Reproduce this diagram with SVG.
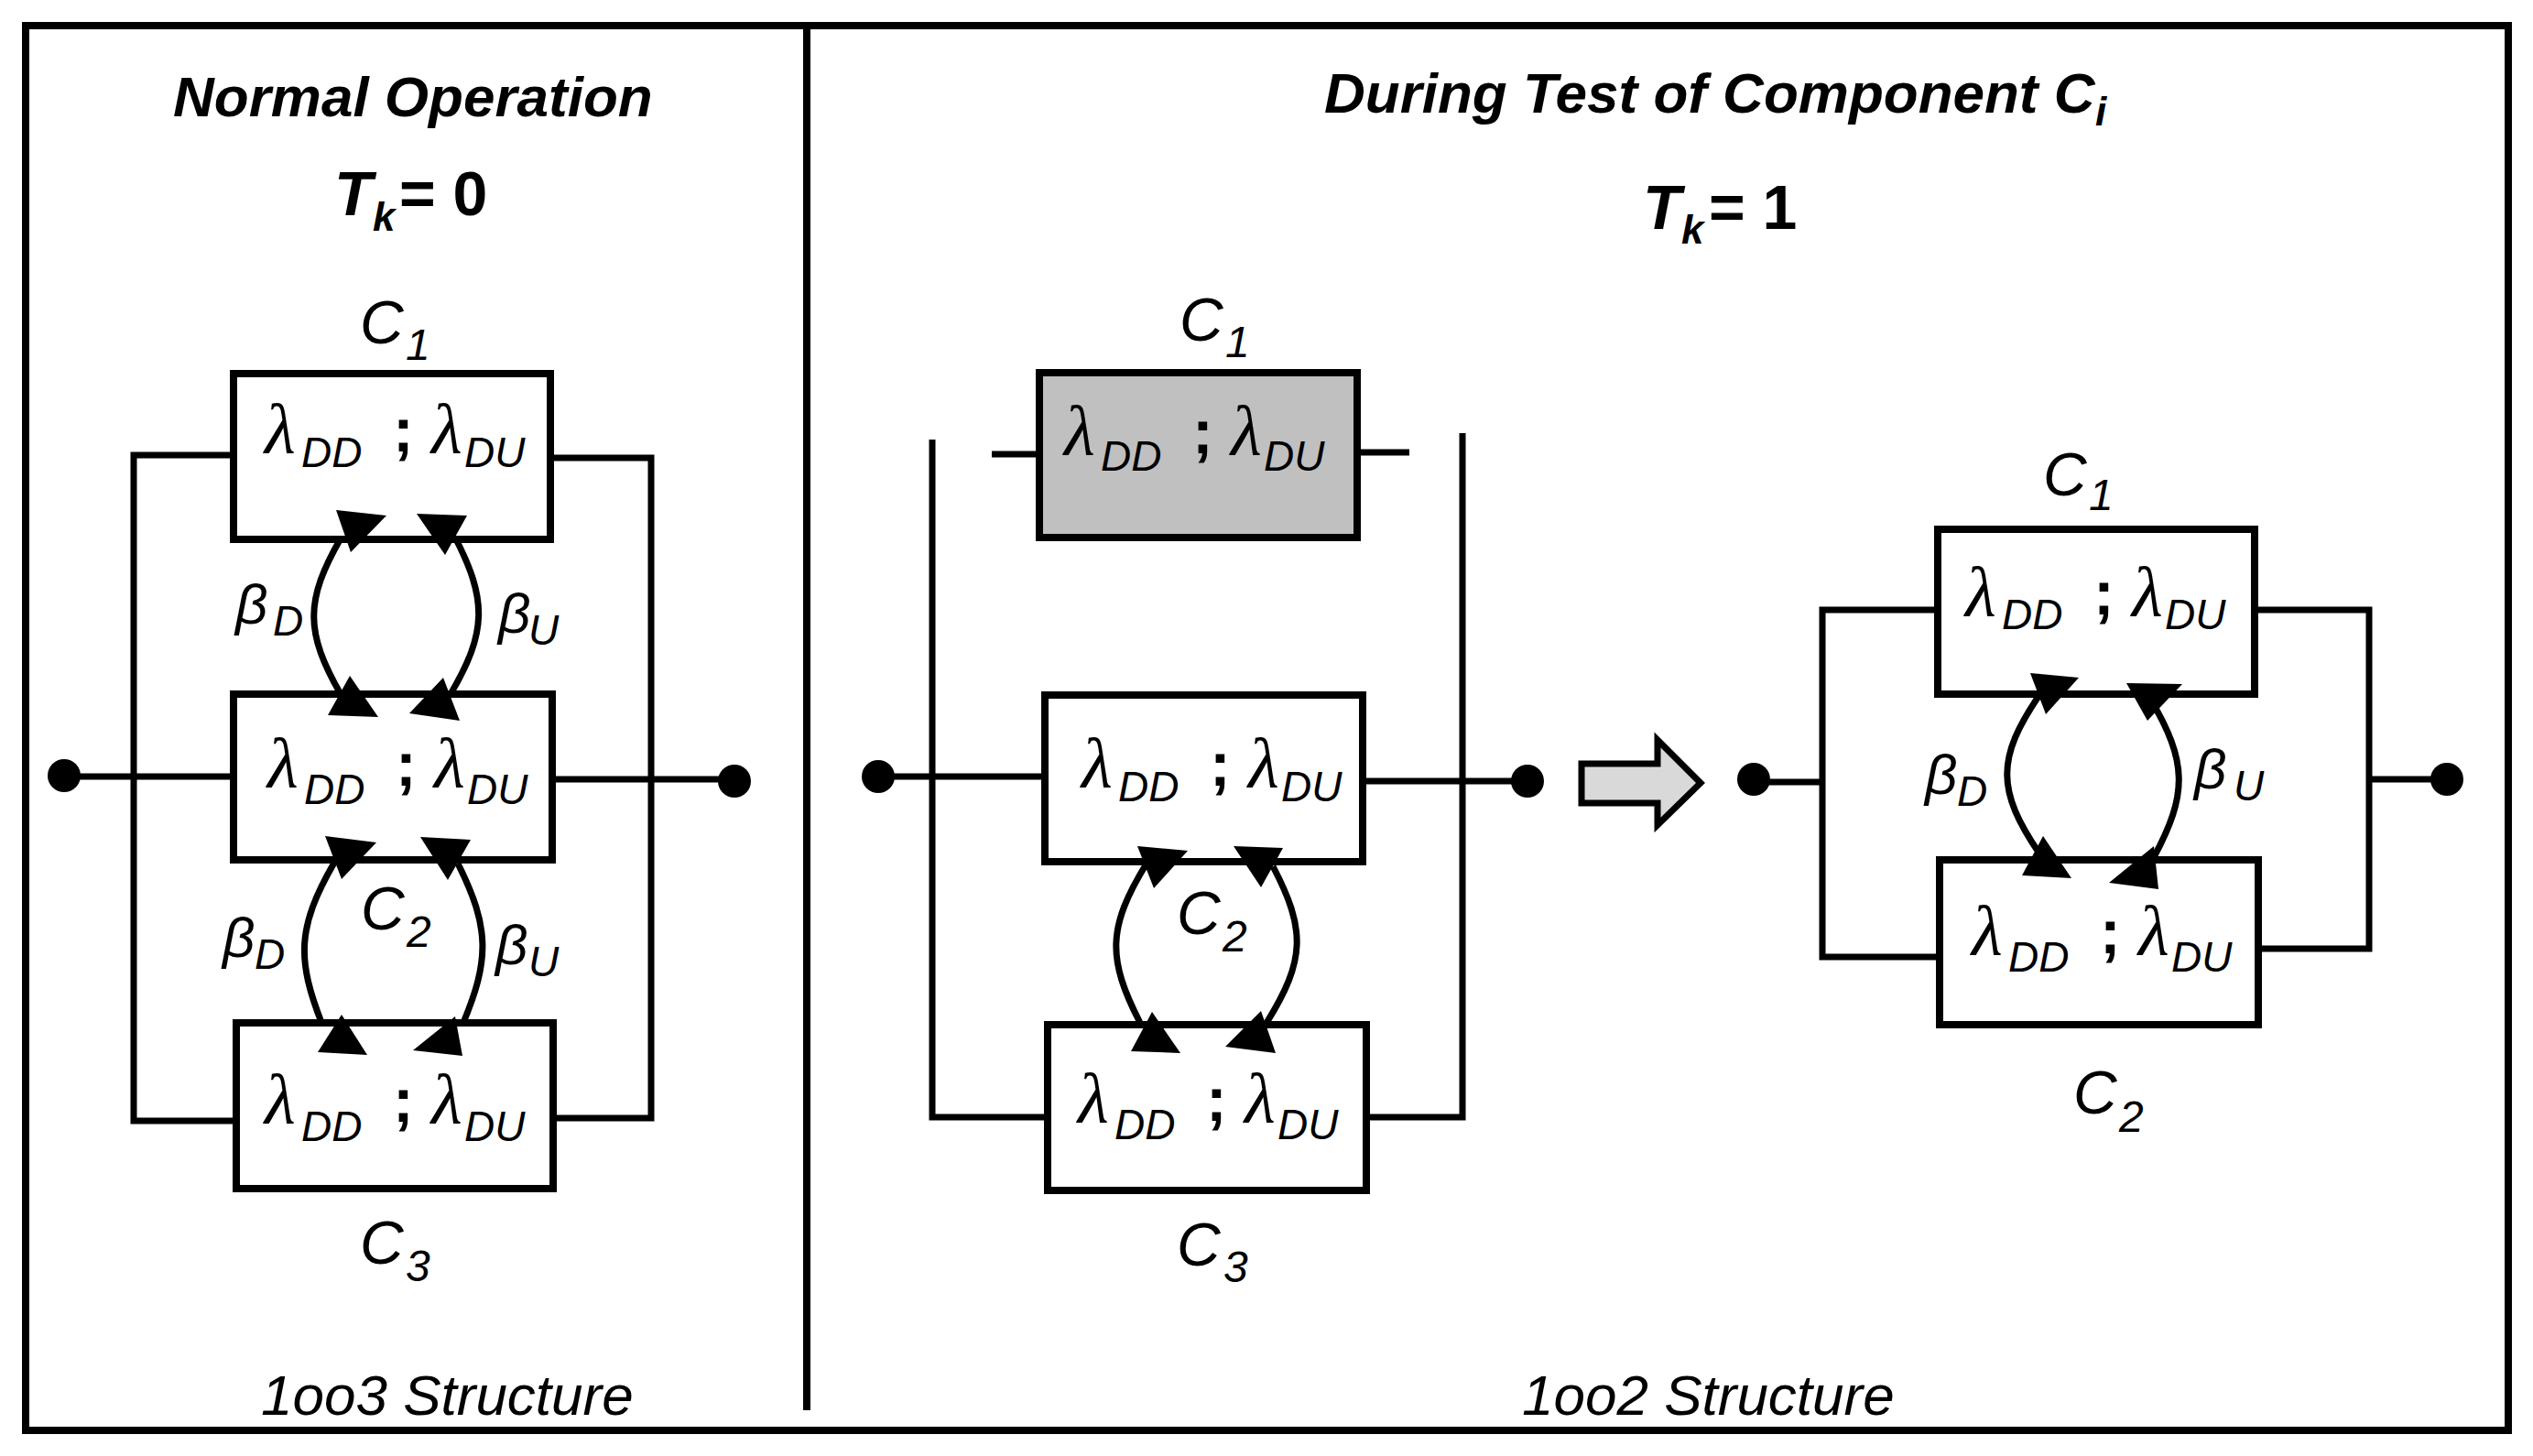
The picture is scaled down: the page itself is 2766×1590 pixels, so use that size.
<svg xmlns="http://www.w3.org/2000/svg" width="2766" height="1590" viewBox="0 0 2766 1590">
<style>
.frame{fill:none;stroke:#000;stroke-width:8}
.box{fill:#fff;stroke:#000;stroke-width:8}
.gray{fill:#c0c0c0}
.wire{fill:none;stroke:#000;stroke-width:7;stroke-linejoin:miter}
.arc{fill:none;stroke:#000;stroke-width:7}
.head{fill:#000}
.dot{fill:#000}
.lam{font-family:"Liberation Serif","DejaVu Serif",serif;font-style:italic;font-size:78px}
.sub{font-family:"Liberation Sans",Arial,sans-serif;font-style:italic;font-size:46px}
.semi{font-family:"Liberation Sans",Arial,sans-serif;font-weight:bold;font-size:68px}
.clab{font-family:"Liberation Sans",Arial,sans-serif;font-style:italic;font-size:66px}
.csub{font-family:"Liberation Sans",Arial,sans-serif;font-style:italic;font-size:48px}
.beta{font-family:"Liberation Sans",Arial,sans-serif;font-style:italic;font-size:62px}
.title{font-family:"Liberation Sans",Arial,sans-serif;font-style:italic;font-weight:bold;font-size:62px}
.tk{font-family:"Liberation Sans",Arial,sans-serif;font-style:italic;font-weight:bold;font-size:68px}
.tks{font-family:"Liberation Sans",Arial,sans-serif;font-style:italic;font-weight:bold;font-size:44px}
.tkv{font-family:"Liberation Sans",Arial,sans-serif;font-weight:bold;font-size:68px}
.foot{font-family:"Liberation Sans",Arial,sans-serif;font-style:italic;font-size:62px}
.hollow{fill:#d9d9d9;stroke:#000;stroke-width:7;stroke-linejoin:miter}
</style>
<rect width="2766" height="1590" fill="#fff"/>
<g id="frame">
<rect class="frame" x="28" y="28" width="2711" height="1534"/>
<line class="frame" x1="881" y1="28" x2="881" y2="1540"/>
</g>
<g id="titles">
<text class="title" x="189" y="127">Normal Operation</text>
<text><tspan class="tk" x="365" y="235">T</tspan><tspan class="tks" x="407" y="252">k</tspan><tspan class="tkv" x="436" y="235">= 0</tspan></text>
<text class="title" x="1446" y="123">During Test of Component C<tspan class="tks" x="2288" y="137">i</tspan></text>
<text><tspan class="tk" x="1794" y="250">T</tspan><tspan class="tks" x="1836" y="266">k</tspan><tspan class="tkv" x="1866" y="250">= 1</tspan></text>
<text class="foot" x="285" y="1545">1oo3 Structure</text>
<text class="foot" x="1662" y="1545">1oo2 Structure</text>
</g>
<g id="terminals">
<circle class="dot" cx="70" cy="847" r="18"/>
<circle class="dot" cx="802" cy="853" r="18"/>
<circle class="dot" cx="959" cy="848" r="18"/>
<circle class="dot" cx="1668" cy="853" r="18"/>
<circle class="dot" cx="1915" cy="851" r="18"/>
<circle class="dot" cx="2672" cy="851" r="18"/>
</g>
<g id="L-C1">
<rect class="box" x="255" y="408" width="346" height="181"/>
<text><tspan class="lam" x="289" y="495">λ</tspan><tspan class="sub" x="329" y="510">DD</tspan><tspan class="semi" x="429" y="493">;</tspan><tspan class="lam" x="471" y="495">λ</tspan><tspan class="sub" x="507" y="510">DU</tspan></text>
<text><tspan class="clab" x="393" y="375">C</tspan><tspan class="csub" x="443" y="393">1</tspan></text>
</g>
<g id="L-C2">
<rect class="box" x="255" y="758" width="348" height="181"/>
<text><tspan class="lam" x="292" y="860">λ</tspan><tspan class="sub" x="332" y="878">DD</tspan><tspan class="semi" x="432" y="858">;</tspan><tspan class="lam" x="474" y="860">λ</tspan><tspan class="sub" x="510" y="878">DU</tspan></text>
<text><tspan class="clab" x="394" y="1015">C</tspan><tspan class="csub" x="444" y="1034">2</tspan></text>
</g>
<g id="L-C3">
<rect class="box" x="258" y="1117" width="346" height="181"/>
<text><tspan class="lam" x="289" y="1227">λ</tspan><tspan class="sub" x="329" y="1246">DD</tspan><tspan class="semi" x="429" y="1225">;</tspan><tspan class="lam" x="471" y="1227">λ</tspan><tspan class="sub" x="507" y="1246">DU</tspan></text>
<text><tspan class="clab" x="393" y="1380">C</tspan><tspan class="csub" x="443" y="1399">3</tspan></text>
</g>
<g id="M-C1">
<rect class="box gray" x="1135" y="407" width="347" height="180"/>
<text><tspan class="lam" x="1162" y="497">λ</tspan><tspan class="sub" x="1202" y="514">DD</tspan><tspan class="semi" x="1302" y="495">;</tspan><tspan class="lam" x="1344" y="497">λ</tspan><tspan class="sub" x="1380" y="514">DU</tspan></text>
<text><tspan class="clab" x="1288" y="372">C</tspan><tspan class="csub" x="1338" y="390">1</tspan></text>
</g>
<g id="M-C2">
<rect class="box" x="1141" y="759" width="347" height="182"/>
<text><tspan class="lam" x="1181" y="860">λ</tspan><tspan class="sub" x="1221" y="875">DD</tspan><tspan class="semi" x="1321" y="858">;</tspan><tspan class="lam" x="1363" y="860">λ</tspan><tspan class="sub" x="1399" y="875">DU</tspan></text>
<text><tspan class="clab" x="1285" y="1020">C</tspan><tspan class="csub" x="1335" y="1039">2</tspan></text>
</g>
<g id="M-C3">
<rect class="box" x="1144" y="1119" width="348" height="181"/>
<text><tspan class="lam" x="1177" y="1226">λ</tspan><tspan class="sub" x="1217" y="1244">DD</tspan><tspan class="semi" x="1317" y="1224">;</tspan><tspan class="lam" x="1359" y="1226">λ</tspan><tspan class="sub" x="1395" y="1244">DU</tspan></text>
<text><tspan class="clab" x="1285" y="1382">C</tspan><tspan class="csub" x="1336" y="1400">3</tspan></text>
</g>
<g id="R-C1">
<rect class="box" x="2116" y="578" width="346" height="180"/>
<text><tspan class="lam" x="2146" y="673">λ</tspan><tspan class="sub" x="2186" y="687">DD</tspan><tspan class="semi" x="2286" y="671">;</tspan><tspan class="lam" x="2328" y="673">λ</tspan><tspan class="sub" x="2364" y="687">DU</tspan></text>
<text><tspan class="clab" x="2231" y="541">C</tspan><tspan class="csub" x="2281" y="557">1</tspan></text>
</g>
<g id="R-C2">
<rect class="box" x="2118" y="939" width="348" height="180"/>
<text><tspan class="lam" x="2153" y="1043">λ</tspan><tspan class="sub" x="2193" y="1061">DD</tspan><tspan class="semi" x="2293" y="1041">;</tspan><tspan class="lam" x="2335" y="1043">λ</tspan><tspan class="sub" x="2371" y="1061">DU</tspan></text>
<text><tspan class="clab" x="2264" y="1216">C</tspan><tspan class="csub" x="2314" y="1236">2</tspan></text>
</g>
<g id="connectors">
<path class="wire" d="M255,497 H146 V1224 H258"/>
<path class="wire" d="M601,500 H711 V1221 H604"/>
<path class="wire" d="M70,848 H255"/>
<path class="wire" d="M603,851 H802"/>
<path class="wire" d="M1018,480 V1220 H1144"/>
<path class="wire" d="M1597,473 V1220 H1492"/>
<path class="wire" d="M1083,496 H1135"/>
<path class="wire" d="M1482,494 H1539"/>
<path class="wire" d="M959,848 H1141"/>
<path class="wire" d="M1488,853 H1668"/>
<path class="wire" d="M2116,666 H1990 V1045 H2118"/>
<path class="wire" d="M2462,666 H2587 V1036 H2466"/>
<path class="wire" d="M1915,854 H1990"/>
<path class="wire" d="M2587,851 H2672"/>
<polygon class="hollow" points="1727,834 1810,834 1810,808 1857,855 1810,901 1810,877 1727,877"/>
<path class="arc" d="M372,588 C333,656 333,690 372,758"/>
<path class="arc" d="M497,587 C532,655 532,690 492,758"/>
<path class="arc" d="M365,942 C324,1013 324,1048 352,1119"/>
<path class="arc" d="M500,943 C535,1013 535,1048 505,1119"/>
<path class="arc" d="M1252,943 C1209,1013 1209,1047 1245,1117"/>
<path class="arc" d="M1390,946 C1426,1015 1426,1048 1383,1117"/>
<path class="arc" d="M2227,759 C2180,828 2180,863 2227,932"/>
<path class="arc" d="M2348,763 C2389,832 2389,867 2352,936"/>
<polygon class="head" points="367,557 422,563 383,603"/>
<polygon class="head" points="455,561 510,563 486,606"/>
<polygon class="head" points="382,738 413,783 358,781"/>
<polygon class="head" points="484,740 502,787 447,779"/>
<polygon class="head" points="355,913 411,920 373,960"/>
<polygon class="head" points="459,914 514,917 489,961"/>
<polygon class="head" points="373,1108 401,1152 347,1149"/>
<polygon class="head" points="497,1110 505,1153 451,1147"/>
<polygon class="head" points="1242,924 1297,929 1260,970"/>
<polygon class="head" points="1347,924 1401,926 1377,969"/>
<polygon class="head" points="1258,1105 1289,1150 1235,1148"/>
<polygon class="head" points="1377,1104 1393,1150 1338,1143"/>
<polygon class="head" points="2217,735 2270,740 2234,780"/>
<polygon class="head" points="2322,746 2383,747 2345,787"/>
<polygon class="head" points="2231,913 2262,959 2208,956"/>
<polygon class="head" points="2352,924 2357,971 2303,964"/>
<text><tspan class="beta" x="257" y="681">β</tspan><tspan class="sub" x="298" y="694">D</tspan></text>
<text><tspan class="beta" x="544" y="691">β</tspan><tspan class="sub" x="577" y="704">U</tspan></text>
<text><tspan class="beta" x="243" y="1045">β</tspan><tspan class="sub" x="278" y="1058">D</tspan></text>
<text><tspan class="beta" x="541" y="1053">β</tspan><tspan class="sub" x="577" y="1066">U</tspan></text>
<text><tspan class="beta" x="2102" y="867">β</tspan><tspan class="sub" x="2137" y="880">D</tspan></text>
<text><tspan class="beta" x="2396" y="861">β</tspan><tspan class="sub" x="2439" y="874">U</tspan></text>
</g>
</svg>
